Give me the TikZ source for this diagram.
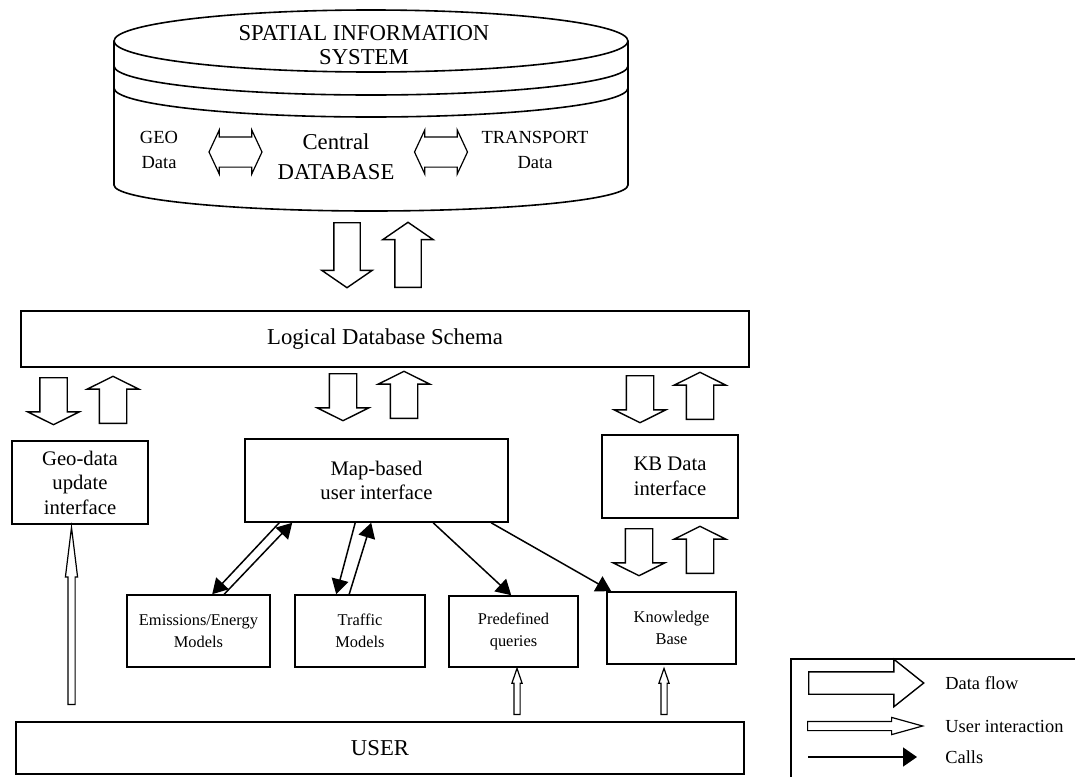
\documentclass[tikz,border=0pt]{standalone}
\usepackage{fontspec}
\setmainfont{Liberation Serif}
\usetikzlibrary{shapes.arrows,arrows.meta}

\tikzset{
  box/.style={draw, line width=0.8pt, inner sep=0pt, align=center},
  bigtxt/.style={font=\fontsize{11.35}{12}\selectfont},
  midtxt/.style={font=\fontsize{10.35}{12.25}\selectfont},
  smalltxt/.style={font=\fontsize{8.2}{11}\selectfont},
  geotxt/.style={font=\fontsize{9.25}{12.5}\selectfont, align=center, inner sep=0pt},
  legtxt/.style={font=\fontsize{9.2}{11}\selectfont, inner sep=0pt, anchor=west},
  flow/.style={single arrow, draw, line width=0.7pt, inner sep=0pt, anchor=tail,
    text height=13pt, text depth=0pt, minimum height=23.5pt,
    single arrow head extend=6pt, single arrow tip angle=127},
  dbl/.style={double arrow, draw, line width=0.6pt, inner sep=0pt,
    text height=14.5pt, text depth=0pt, minimum height=26.5pt,
    double arrow head extend=3.5pt, double arrow tip angle=130},
  uarrow/.style={single arrow, draw, line width=0.6pt, inner sep=0pt, anchor=tail, text depth=0pt},
  call/.style={line width=0.75pt, -{Triangle[length=7.5pt,width=8.5pt]}},
}

\begin{document}
\begin{tikzpicture}[x=0.5pt,y=-0.5pt]
\useasboundingbox (0,0) rectangle (1075,776);

% database cylinder
\draw[line width=0.8pt] (371,41) ellipse[x radius=257, y radius=31];
\draw[line width=0.8pt] (114,66) arc[start angle=180, end angle=0, x radius=257, y radius=29];
\draw[line width=0.8pt] (114,88) arc[start angle=180, end angle=0, x radius=257, y radius=29];
\draw[line width=0.8pt] (114,41) -- (114,185) arc[start angle=180, end angle=0, x radius=257, y radius=26] -- (628,41);

\node[bigtxt, align=center, inner sep=0pt] (sis) at (364,45) {SPATIAL INFORMATION\\SYSTEM};
\node[geotxt] (geodata) at (159,150) {GEO\\Data};
\node[font=\fontsize{11.35}{15}\selectfont, align=center, inner sep=0pt] (central) at (336,157) {Central\\DATABASE};
\node[geotxt] (trdata) at (535,150) {TRANSPORT\\Data};
\node[dbl] (dleft) at (235.5,152) {};
\node[dbl] (dright) at (441,152) {};

% data flow to schema
\node[flow, rotate=-90, minimum height=32.5pt, text height=12.5pt, single arrow tip angle=111] (sdown) at (347,222) {};
\node[flow, rotate=90, minimum height=32.5pt, text height=12.5pt, single arrow tip angle=111] (sup) at (408,288) {};

\node[box, bigtxt, minimum width=364pt, minimum height=28pt] (lds) at (385,339) {Logical Database Schema};

\node[flow, rotate=-90] (gdown) at (53.5,377) {};
\node[flow, rotate=90] (gup) at (113,424) {};
\node[flow, rotate=-90] (mdown) at (343,373) {};
\node[flow, rotate=90] (mup) at (404,419) {};
\node[flow, rotate=-90] (kdown) at (640,375) {};
\node[flow, rotate=90] (kup) at (700,420) {};

% interfaces
\node[box, midtxt, minimum width=68pt, minimum height=41.5pt] (geo) at (80,482.5) {Geo-data\\update\\interface};
\node[box, midtxt, minimum width=131.5pt, minimum height=41.5pt] (map) at (376.5,480.5) {Map-based\\user interface};
\node[box, midtxt, minimum width=68pt, minimum height=41.5pt] (kbd) at (670,476.5) {KB Data\\interface};

\node[flow, rotate=-90] (bdown) at (639,528) {};
\node[flow, rotate=90] (bup) at (700,574) {};

% models and queries
\node[box, smalltxt, minimum width=71.5pt, minimum height=36pt] (emis) at (198.5,631) {Emissions/Energy\\Models};
\node[box, smalltxt, minimum width=65pt, minimum height=36pt] (traf) at (360,631) {Traffic\\Models};
\node[box, smalltxt, minimum width=64.5pt, minimum height=35.5pt] (pred) at (513.5,631.5) {Predefined\\queries};
\node[box, smalltxt, minimum width=64.5pt, minimum height=36pt] (kb) at (671.5,628) {Knowledge\\Base};

\draw[call] ([shift={(35,0)}]map.south west) -- ([shift={(86,0)}]emis.north west);
\draw[call] ([shift={(98,0)}]emis.north west) -- ([shift={(48,0)}]map.south west);
\draw[call] ([shift={(111,0)}]map.south west) -- ([shift={(42,0)}]traf.north west);
\draw[call] ([shift={(55,0)}]traf.north west) -- ([shift={(127,0)}]map.south west);
\draw[call] ([shift={(189,0)}]map.south west) -- ([shift={(63,0)}]pred.north west);
\draw[call] ([shift={(247,0)}]map.south west) -- ([shift={(5,0)}]kb.north west);

% user
\node[box, bigtxt, minimum width=364pt, minimum height=26pt] (user) at (380,748) {USER};
\node[uarrow, rotate=90, minimum height=88.5pt, text height=3pt,
  single arrow head extend=1.25pt, single arrow tip angle=14] (ugeo) at (71.5,705) {};
\node[uarrow, rotate=90, minimum height=23pt, text height=2.5pt,
  single arrow head extend=1pt, single arrow tip angle=38] (upred) at (517,715) {};
\node[uarrow, rotate=90, minimum height=23pt, text height=2.5pt,
  single arrow head extend=1pt, single arrow tip angle=38] (ukb) at (664,715) {};

% legend
\begin{scope}
\clip (0,0) rectangle (1075,776);
\draw[line width=0.8pt] (791,659) rectangle (1100,800);
\end{scope}
\node[flow, minimum height=57.5pt, text height=10.5pt,
  single arrow head extend=6.25pt, single arrow tip angle=77] (lgflow) at (808,683) {};
\node[uarrow, minimum height=57.5pt, text height=4pt,
  single arrow head extend=2pt, single arrow tip angle=31] (lguser) at (807,726) {};
\coordinate (lgcall) at (808,757);
\coordinate (lgcallend) at (917,757);
\draw[call, -{Triangle[length=7pt,width=9.5pt]}] (lgcall) -- (lgcallend);
\node[legtxt] (tflow) at (945,683) {Data flow};
\node[legtxt] (tuser) at (945,726) {User interaction};
\node[legtxt] (tcall) at (945,757) {Calls};
\end{tikzpicture}
\end{document}
